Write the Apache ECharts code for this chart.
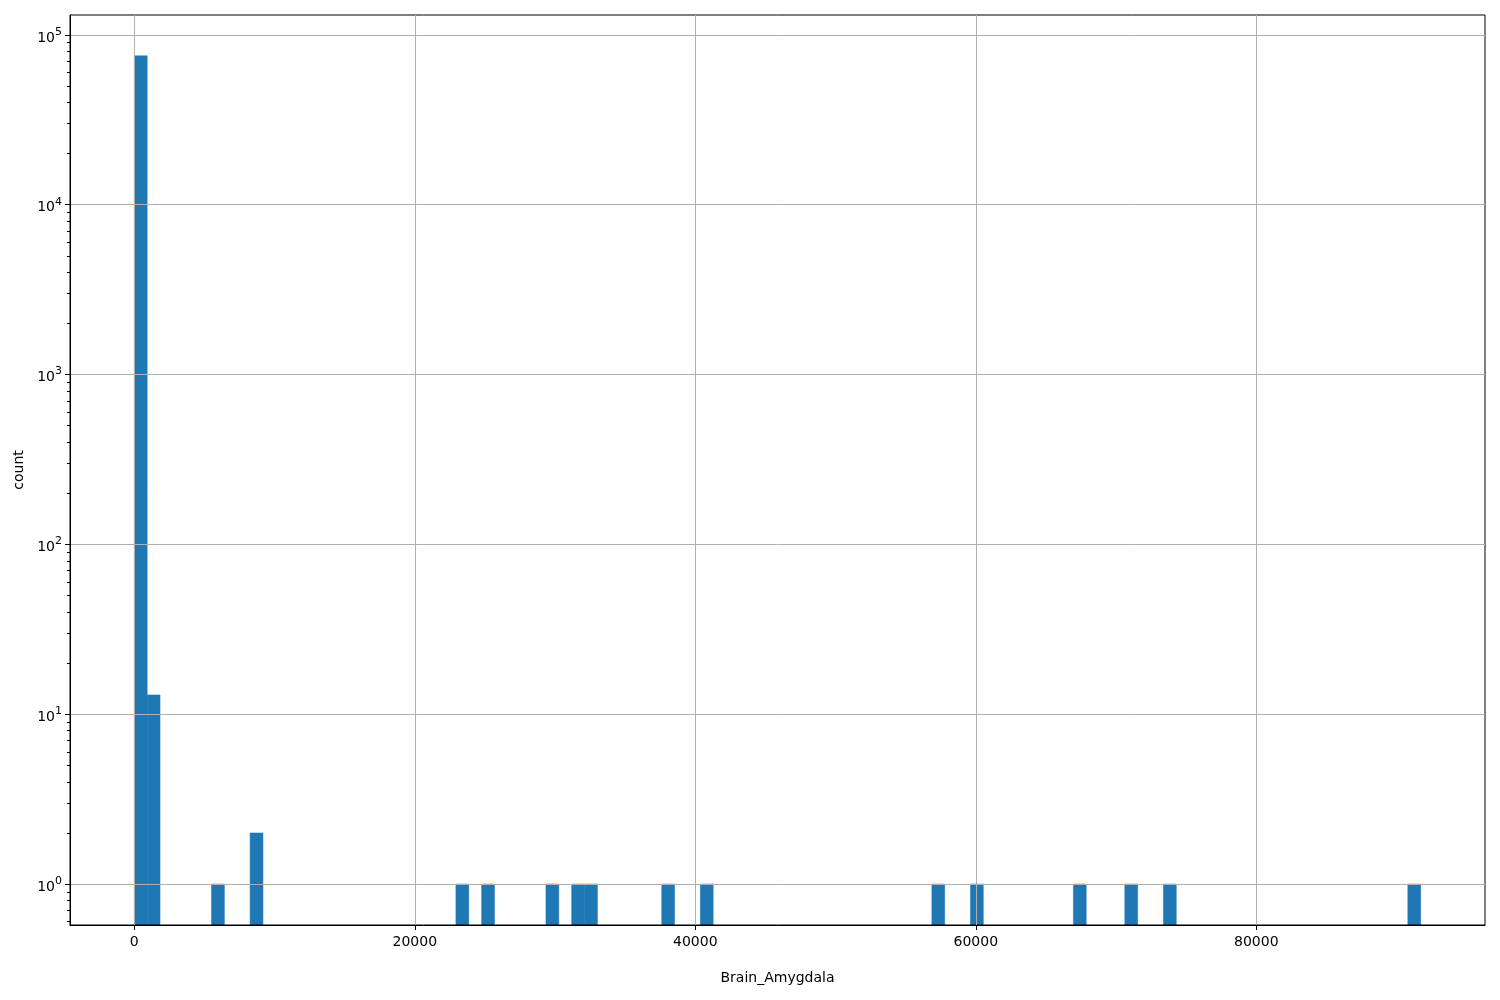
<!DOCTYPE html>
<html>
<head>
<meta charset="utf-8">
<script src="https://cdn.jsdelivr.net/npm/echarts@6/dist/echarts.min.js"></script>
<style>
  html, body { margin: 0; padding: 0; background: #fff; }
  #chart { width: 1500px; height: 1000px; }
</style>
</head>
<body>
<div id="chart"></div>
<script>
// histogram bins (left edge of each non-empty bin) and their counts
const binStarts = [0, 917, 5503, 8255, 22930, 24764, 29350, 31185, 32102, 37605, 40357, 56866, 59618, 66956, 70624, 73376, 90803]
const counts = [75300, 13, 1, 2, 1, 1, 1, 1, 1, 1, 1, 1, 1, 1, 1, 1, 1]
const binWidth = 917.2

const xTicks = [0, 20000, 40000, 60000, 80000]
const yTicks = [1, 10, 100, 1000, 10000, 100000]
const yMinorTicks = [
  0.6, 0.7, 0.8, 0.9,
  2, 3, 4, 5, 6, 7, 8, 9,
  20, 30, 40, 50, 60, 70, 80, 90,
  200, 300, 400, 500, 600, 700, 800, 900,
  2000, 3000, 4000, 5000, 6000, 7000, 8000, 9000,
  20000, 30000, 40000, 50000, 60000, 70000, 80000, 90000
]

const xMin = -4586, xMax = 96306
const yMin = 0.574, yMax = 131000

const gridColor = '#b0b0b0'
const font = 'DejaVu Sans'

const chart = echarts.init(document.getElementById('chart'))

const seriesData = binStarts.map((s, i) => [s, s + binWidth, counts[i]])

const option = {
  animation: false,
  grid: {
    left: 70, right: 15, top: 15, bottom: 75,
    show: true, borderColor: '#000', borderWidth: 1, backgroundColor: 'transparent'
  },
  xAxis: {
    type: 'value',
    min: xMin, max: xMax,
    name: 'Brain_Amygdala',
    nameLocation: 'middle',
    nameGap: 46,
    nameTextStyle: { fontFamily: font, fontSize: 14, color: '#000' },
    axisLine: { show: true, onZero: false, lineStyle: { color: '#000', width: 1 } },
    axisTick: { show: true, length: 5, customValues: xTicks, lineStyle: { color: '#000' } },
    axisLabel: {
      customValues: xTicks, margin: 10, fontFamily: font, fontSize: 14, color: '#000',
      formatter: (v) => String(v)
    },
    splitLine: { show: true, lineStyle: { color: gridColor, width: 1 } }
  },
  yAxis: [
    {
      type: 'log', logBase: 10,
      min: yMin, max: yMax,
      name: 'count',
      nameLocation: 'middle',
      nameGap: 41,
      nameTextStyle: { fontFamily: font, fontSize: 14, color: '#000' },
      axisLine: { show: true, onZero: false, lineStyle: { color: '#000', width: 1 } },
      axisTick: { show: true, length: 5, customValues: yTicks, lineStyle: { color: '#000' } },
      axisLabel: {
        customValues: yTicks,
        margin: 8,
        formatter: (v) => '{b|10}{s|' + Math.round(Math.log10(v)) + '}',
        rich: {
          b: { fontFamily: font, fontSize: 14, color: '#000', padding: [6, 0, 0, 0] },
          s: { fontFamily: font, fontSize: 11, color: '#000', padding: [0, 0, 6, 0] }
        }
      },
      splitLine: { show: true, lineStyle: { color: gridColor, width: 1 } }
    },
    {
      type: 'log', logBase: 10,
      min: yMin, max: yMax,
      position: 'left',
      axisLine: { show: false, onZero: false },
      axisTick: { show: true, length: 3, customValues: yMinorTicks, lineStyle: { color: '#000' } },
      axisLabel: { show: false },
      splitLine: { show: false }
    }
  ],
  series: [
    {
      type: 'custom',
      z: -1,
      data: seriesData,
      encode: { x: [0, 1], y: 2 },
      renderItem: (params, api) => {
        const p0 = api.coord([api.value(0), api.value(2)])
        const p1 = api.coord([api.value(1), api.value(2)])
        const bottom = params.coordSys.y + params.coordSys.height
        return {
          type: 'rect',
          shape: { x: p0[0], y: p0[1], width: p1[0] - p0[0], height: bottom - p0[1] },
          style: { fill: '#1f77b4', stroke: '#1f77b4', lineWidth: 0.5 }
        }
      }
    }
  ]
}

chart.setOption(option)
</script>
</body>
</html>
